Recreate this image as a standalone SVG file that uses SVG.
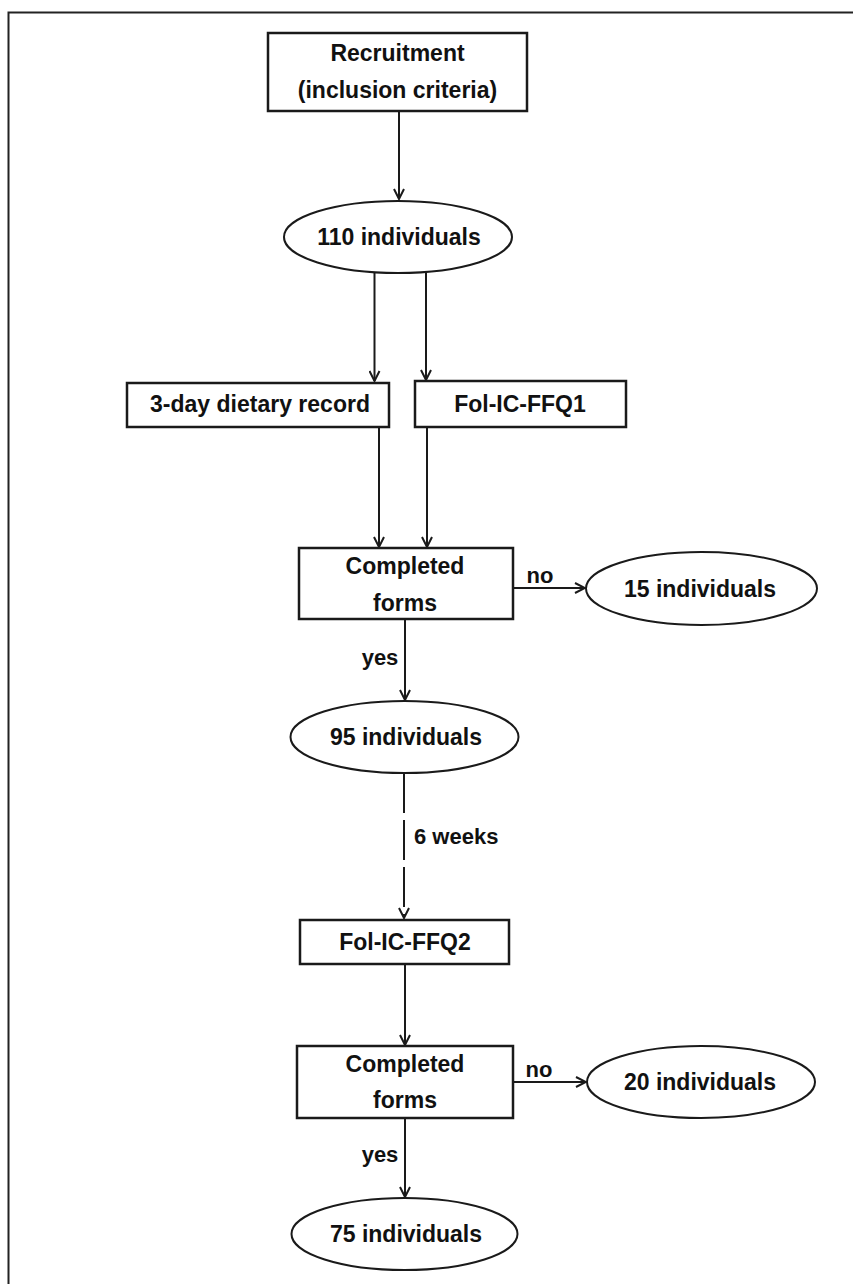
<svg xmlns="http://www.w3.org/2000/svg" width="853" height="1284" viewBox="0 0 853 1284">
<defs>
<style>
.box{fill:#fff;stroke:#1a1a1a;stroke-width:2.5}
.ell{fill:#fff;stroke:#1a1a1a;stroke-width:2}
.t{font-family:"Liberation Sans",Arial,sans-serif;font-weight:bold;font-size:23px;fill:#111;text-anchor:middle}
.l{font-family:"Liberation Sans",Arial,sans-serif;font-weight:bold;font-size:22px;fill:#111;text-anchor:middle}
.c{stroke:#1a1a1a;stroke-width:2;fill:none;marker-end:url(#ah)}
.frame{stroke:#222;stroke-width:2;fill:none}
</style>
<marker id="ah" markerUnits="userSpaceOnUse" viewBox="0 0 12 12" refX="11" refY="6" markerWidth="12" markerHeight="12" orient="auto">
<path d="M1,1 L11,6 L1,11" fill="none" stroke="#1a1a1a" stroke-width="2"/>
</marker>
</defs>
<rect width="853" height="1284" fill="#fff"/>
<path class="frame" d="M8.5,1284 V12.5 H853"/>

<g id="connectors">
<line class="c" x1="399" y1="111" x2="399" y2="199"/>
<line class="c" x1="374.5" y1="272" x2="374.5" y2="381"/>
<line class="c" x1="426" y1="271" x2="426" y2="380"/>
<line class="c" x1="379" y1="427" x2="379" y2="547"/>
<line class="c" x1="427" y1="427" x2="427" y2="547"/>
<line class="c" x1="513" y1="588" x2="585" y2="588"/>
<line class="c" x1="405" y1="619" x2="405" y2="700"/>
<line class="c" x1="404" y1="773" x2="404" y2="918" stroke-dasharray="40 7"/>
<line class="c" x1="405" y1="964" x2="405" y2="1045"/>
<line class="c" x1="513" y1="1082" x2="586" y2="1082"/>
<line class="c" x1="405" y1="1118" x2="405" y2="1197"/>
<text class="l" x="540" y="583">no</text>
<text class="l" x="380" y="665">yes</text>
<text class="l" x="414" y="844" style="text-anchor:start">6 weeks</text>
<text class="l" x="539" y="1077">no</text>
<text class="l" x="380" y="1162">yes</text>
</g>

<g id="recruitment">
<rect class="box" x="268" y="33" width="259" height="78"/>
<text class="t" x="397.5" y="61">Recruitment</text>
<text class="t" x="397.5" y="98">(inclusion criteria)</text>
</g>
<g id="n110">
<ellipse class="ell" cx="398" cy="237" rx="114" ry="36"/>
<text class="t" x="399" y="245">110 individuals</text>
</g>
<g id="dietary">
<rect class="box" x="127" y="383" width="262" height="44"/>
<text class="t" x="260" y="412">3-day dietary record</text>
</g>
<g id="ffq1">
<rect class="box" x="415" y="381" width="211" height="46"/>
<text class="t" x="520" y="412">Fol-IC-FFQ1</text>
</g>
<g id="completed1">
<rect class="box" x="299" y="548" width="214" height="71"/>
<text class="t" x="405" y="574">Completed</text>
<text class="t" x="405" y="611">forms</text>
</g>
<g id="n15">
<ellipse class="ell" cx="701.5" cy="588.5" rx="115.5" ry="36.5"/>
<text class="t" x="700" y="597">15 individuals</text>
</g>
<g id="n95">
<ellipse class="ell" cx="404.5" cy="737" rx="114" ry="36"/>
<text class="t" x="406" y="745">95 individuals</text>
</g>
<g id="ffq2">
<rect class="box" x="300" y="920" width="209" height="44"/>
<text class="t" x="405" y="950">Fol-IC-FFQ2</text>
</g>
<g id="completed2">
<rect class="box" x="297" y="1046" width="216" height="72"/>
<text class="t" x="405" y="1072">Completed</text>
<text class="t" x="405" y="1108">forms</text>
</g>
<g id="n20">
<ellipse class="ell" cx="701" cy="1082" rx="114" ry="36"/>
<text class="t" x="700" y="1090">20 individuals</text>
</g>
<g id="n75">
<ellipse class="ell" cx="404.5" cy="1234" rx="113" ry="36"/>
<text class="t" x="406" y="1242">75 individuals</text>
</g>
</svg>
